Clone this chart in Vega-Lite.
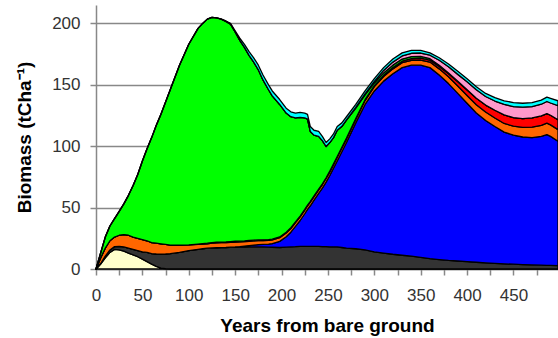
{
  "$schema": "https://vega.github.io/schema/vega-lite/v6.json",
  "width": 462,
  "height": 264,
  "autosize": {"type": "none"},
  "padding": {"left": 96, "top": 5, "right": 0, "bottom": 69},
  "background": "white",
  "config": {"view": {"stroke": null}, "font": "Liberation Sans"},
  "data": {"values": [
    {"year": 0, "s1": 0, "s2": 0, "s3": 0, "s4": 0, "s5": 0, "s6": 0, "s7": 0, "s8": 0},
    {"year": 5, "s1": 4, "s2": 0.5, "s3": 0, "s4": 4.5, "s5": 0, "s6": 4, "s7": 0, "s8": 0},
    {"year": 10, "s1": 9, "s2": 1.5, "s3": 0, "s4": 6.5, "s5": 0, "s6": 9, "s7": 0, "s8": 0},
    {"year": 15, "s1": 13.5, "s2": 2, "s3": 0, "s4": 7.5, "s5": 0, "s6": 12, "s7": 0, "s8": 0},
    {"year": 20, "s1": 16, "s2": 2.2, "s3": 0, "s4": 7.8, "s5": 0, "s6": 15, "s7": 0, "s8": 0},
    {"year": 25, "s1": 15.5, "s2": 3, "s3": 0, "s4": 9, "s5": 0, "s6": 19.5, "s7": 0, "s8": 0},
    {"year": 30, "s1": 14.5, "s2": 3.5, "s3": 0, "s4": 10, "s5": 0, "s6": 25, "s7": 0, "s8": 0},
    {"year": 35, "s1": 13, "s2": 4, "s3": 0, "s4": 10.5, "s5": 0, "s6": 32.5, "s7": 0, "s8": 0},
    {"year": 40, "s1": 11.5, "s2": 4.5, "s3": 0, "s4": 10, "s5": 0, "s6": 42, "s7": 0, "s8": 0},
    {"year": 45, "s1": 10, "s2": 5, "s3": 0, "s4": 10, "s5": 0, "s6": 52, "s7": 0, "s8": 0},
    {"year": 50, "s1": 8, "s2": 6, "s3": 0, "s4": 10, "s5": 0, "s6": 64, "s7": 0, "s8": 0},
    {"year": 55, "s1": 6, "s2": 7.5, "s3": 0, "s4": 9.5, "s5": 0, "s6": 75, "s7": 0, "s8": 0},
    {"year": 60, "s1": 4, "s2": 8.5, "s3": 0, "s4": 9, "s5": 0, "s6": 85.5, "s7": 0, "s8": 0},
    {"year": 65, "s1": 2.2, "s2": 10, "s3": 0, "s4": 8.8, "s5": 0, "s6": 96, "s7": 0, "s8": 0},
    {"year": 70, "s1": 0.8, "s2": 11.2, "s3": 0, "s4": 8.5, "s5": 0, "s6": 105.5, "s7": 0, "s8": 0},
    {"year": 75, "s1": 0.2, "s2": 12, "s3": 0, "s4": 7.8, "s5": 0, "s6": 116, "s7": 0, "s8": 0},
    {"year": 80, "s1": 0, "s2": 12.5, "s3": 0, "s4": 7, "s5": 0, "s6": 126.5, "s7": 0, "s8": 0},
    {"year": 90, "s1": 0, "s2": 13.5, "s3": 0, "s4": 6, "s5": 0, "s6": 146.5, "s7": 0, "s8": 0},
    {"year": 100, "s1": 0, "s2": 15, "s3": 0, "s4": 4.6, "s5": 0, "s6": 163.4, "s7": 0, "s8": 0},
    {"year": 110, "s1": 0, "s2": 16, "s3": 0, "s4": 4, "s5": 0.3, "s6": 175.7, "s7": 0, "s8": 0},
    {"year": 115, "s1": 0, "s2": 16.5, "s3": 0, "s4": 3.8, "s5": 0.4, "s6": 179.3, "s7": 0, "s8": 0},
    {"year": 120, "s1": 0, "s2": 17, "s3": 0, "s4": 3.5, "s5": 0.5, "s6": 182.5, "s7": 0, "s8": 0},
    {"year": 125, "s1": 0, "s2": 17.2, "s3": 0, "s4": 3.8, "s5": 0.5, "s6": 183.5, "s7": 0, "s8": 0},
    {"year": 130, "s1": 0, "s2": 17.3, "s3": 0, "s4": 4, "s5": 0.5, "s6": 182.7, "s7": 0, "s8": 0},
    {"year": 135, "s1": 0, "s2": 17.4, "s3": 0, "s4": 4, "s5": 0.5, "s6": 181.6, "s7": 0, "s8": 0},
    {"year": 140, "s1": 0, "s2": 17.5, "s3": 0, "s4": 4, "s5": 0.5, "s6": 179.7, "s7": 0, "s8": 0.3},
    {"year": 145, "s1": 0, "s2": 17.6, "s3": 0.2, "s4": 4, "s5": 0.5, "s6": 177.1, "s7": 0, "s8": 0.6},
    {"year": 150, "s1": 0, "s2": 17.7, "s3": 0.3, "s4": 4, "s5": 0.6, "s6": 170.4, "s7": 0, "s8": 1},
    {"year": 155, "s1": 0, "s2": 17.8, "s3": 0.5, "s4": 3.8, "s5": 0.6, "s6": 163.5, "s7": 0, "s8": 1.8},
    {"year": 160, "s1": 0, "s2": 17.9, "s3": 0.8, "s4": 3.6, "s5": 0.6, "s6": 157.6, "s7": 0, "s8": 2.5},
    {"year": 165, "s1": 0, "s2": 18, "s3": 1.1, "s4": 3.5, "s5": 0.6, "s6": 150.8, "s7": 0, "s8": 3},
    {"year": 170, "s1": 0, "s2": 18, "s3": 1.5, "s4": 3.4, "s5": 0.6, "s6": 145, "s7": 0, "s8": 3.5},
    {"year": 175, "s1": 0, "s2": 18, "s3": 1.8, "s4": 3.3, "s5": 0.6, "s6": 138.5, "s7": 0, "s8": 3.8},
    {"year": 180, "s1": 0, "s2": 18, "s3": 2, "s4": 3.2, "s5": 0.6, "s6": 130.2, "s7": 0, "s8": 4},
    {"year": 186, "s1": 0, "s2": 17.8, "s3": 2.5, "s4": 3.1, "s5": 0.6, "s6": 122, "s7": 0, "s8": 4},
    {"year": 190, "s1": 0, "s2": 17.7, "s3": 3, "s4": 3, "s5": 0.6, "s6": 116.7, "s7": 0, "s8": 4},
    {"year": 198, "s1": 0, "s2": 17.5, "s3": 5, "s4": 3, "s5": 0.6, "s6": 107.9, "s7": 0, "s8": 4},
    {"year": 205, "s1": 0, "s2": 17.8, "s3": 8.5, "s4": 3, "s5": 0.6, "s6": 97.1, "s7": 0, "s8": 4},
    {"year": 210, "s1": 0, "s2": 18, "s3": 12, "s4": 3, "s5": 0.6, "s6": 90.4, "s7": 0, "s8": 4},
    {"year": 215, "s1": 0, "s2": 18.2, "s3": 16.5, "s4": 3, "s5": 0.6, "s6": 84.7, "s7": 0, "s8": 4},
    {"year": 220, "s1": 0, "s2": 18.5, "s3": 21, "s4": 3, "s5": 0.6, "s6": 80.4, "s7": 0, "s8": 4},
    {"year": 225, "s1": 0, "s2": 18.5, "s3": 26.5, "s4": 3, "s5": 0.6, "s6": 74.4, "s7": 0, "s8": 4},
    {"year": 228, "s1": 0, "s2": 18.5, "s3": 30, "s4": 3, "s5": 0.6, "s6": 69.9, "s7": 0, "s8": 4},
    {"year": 231, "s1": 0, "s2": 18.5, "s3": 33, "s4": 3, "s5": 0.6, "s6": 56.9, "s7": 0, "s8": 4},
    {"year": 235, "s1": 0, "s2": 18.5, "s3": 37.5, "s4": 3, "s5": 0.6, "s6": 49.4, "s7": 0, "s8": 4},
    {"year": 240, "s1": 0, "s2": 18.5, "s3": 43, "s4": 3, "s5": 0.6, "s6": 42.9, "s7": 0, "s8": 4},
    {"year": 244, "s1": 0, "s2": 18.3, "s3": 47.5, "s4": 3, "s5": 0.6, "s6": 35.1, "s7": 0, "s8": 3.5},
    {"year": 248, "s1": 0, "s2": 18.2, "s3": 52.5, "s4": 3, "s5": 0.6, "s6": 25.5, "s7": 0, "s8": 3.2},
    {"year": 252, "s1": 0, "s2": 18.1, "s3": 58, "s4": 3, "s5": 0.6, "s6": 23.3, "s7": 0, "s8": 3},
    {"year": 256, "s1": 0, "s2": 18, "s3": 64, "s4": 3, "s5": 0.6, "s6": 21.4, "s7": 0, "s8": 3},
    {"year": 260, "s1": 0, "s2": 18, "s3": 70, "s4": 3, "s5": 0.6, "s6": 21.4, "s7": 0, "s8": 3},
    {"year": 265, "s1": 0, "s2": 17.5, "s3": 78, "s4": 3, "s5": 0.6, "s6": 16.9, "s7": 0.2, "s8": 2.8},
    {"year": 270, "s1": 0, "s2": 17, "s3": 86, "s4": 3, "s5": 0.6, "s6": 14.6, "s7": 0.3, "s8": 2.5},
    {"year": 280, "s1": 0, "s2": 16.5, "s3": 102.5, "s4": 3, "s5": 0.6, "s6": 8.5, "s7": 0.5, "s8": 2.4},
    {"year": 290, "s1": 0, "s2": 15.5, "s3": 118.5, "s4": 3.2, "s5": 0.7, "s6": 4, "s7": 0.8, "s8": 2.3},
    {"year": 300, "s1": 0, "s2": 14, "s3": 131, "s4": 3.5, "s5": 0.8, "s6": 2.2, "s7": 1.3, "s8": 2.2},
    {"year": 310, "s1": 0, "s2": 13, "s3": 140, "s4": 3.8, "s5": 0.9, "s6": 2, "s7": 2, "s8": 2.3},
    {"year": 320, "s1": 0, "s2": 12, "s3": 147, "s4": 4, "s5": 1, "s6": 2, "s7": 2.5, "s8": 2.5},
    {"year": 330, "s1": 0, "s2": 11.2, "s3": 152.8, "s4": 4, "s5": 1.2, "s6": 1.8, "s7": 2.5, "s8": 2.5},
    {"year": 340, "s1": 0, "s2": 10.5, "s3": 155.5, "s4": 4, "s5": 1.4, "s6": 1.6, "s7": 2.7, "s8": 2.3},
    {"year": 350, "s1": 0, "s2": 9.5, "s3": 156.5, "s4": 4.2, "s5": 1.5, "s6": 1.4, "s7": 2.8, "s8": 2.1},
    {"year": 360, "s1": 0, "s2": 8.5, "s3": 155.5, "s4": 4.5, "s5": 1.6, "s6": 1.2, "s7": 2.8, "s8": 1.9},
    {"year": 370, "s1": 0, "s2": 7.7, "s3": 150.3, "s4": 5, "s5": 2, "s6": 1, "s7": 4, "s8": 2},
    {"year": 380, "s1": 0, "s2": 7, "s3": 144, "s4": 5.5, "s5": 2.5, "s6": 0.7, "s7": 5, "s8": 2.3},
    {"year": 390, "s1": 0, "s2": 6.5, "s3": 136.5, "s4": 6, "s5": 3.5, "s6": 0.5, "s7": 5.5, "s8": 2.5},
    {"year": 400, "s1": 0, "s2": 6, "s3": 129, "s4": 6.3, "s5": 4.5, "s6": 0.3, "s7": 6.4, "s8": 2.5},
    {"year": 410, "s1": 0, "s2": 5.5, "s3": 121.5, "s4": 6.7, "s5": 5.3, "s6": 0, "s7": 7, "s8": 2.5},
    {"year": 420, "s1": 0, "s2": 5, "s3": 116, "s4": 6.8, "s5": 5.7, "s6": 0, "s7": 7, "s8": 2.5},
    {"year": 430, "s1": 0, "s2": 4.6, "s3": 111.4, "s4": 7, "s5": 6.3, "s6": 0, "s7": 7.5, "s8": 2.7},
    {"year": 440, "s1": 0, "s2": 4.2, "s3": 107.3, "s4": 7, "s5": 7, "s6": 0, "s7": 8.5, "s8": 3},
    {"year": 450, "s1": 0, "s2": 3.9, "s3": 105.1, "s4": 7.3, "s5": 7, "s6": 0, "s7": 9, "s8": 3.2},
    {"year": 460, "s1": 0, "s2": 3.6, "s3": 103.9, "s4": 7.8, "s5": 7.2, "s6": 0, "s7": 9.3, "s8": 3.2},
    {"year": 470, "s1": 0, "s2": 3.3, "s3": 103.7, "s4": 8.5, "s5": 7.5, "s6": 0, "s7": 9.3, "s8": 3.2},
    {"year": 480, "s1": 0, "s2": 3.1, "s3": 104.9, "s4": 9, "s5": 7.7, "s6": 0, "s7": 9.5, "s8": 3.3},
    {"year": 486, "s1": 0, "s2": 3, "s3": 106.5, "s4": 9.3, "s5": 7.8, "s6": 0, "s7": 9.8, "s8": 3.6},
    {"year": 490, "s1": 0, "s2": 2.9, "s3": 105.1, "s4": 9.4, "s5": 7.8, "s6": 0, "s7": 10, "s8": 3.8},
    {"year": 498, "s1": 0, "s2": 2.8, "s3": 101.2, "s4": 9.5, "s5": 8, "s6": 0, "s7": 11.5, "s8": 4}
  ]},
  "transform": [{"fold": ["s1", "s2", "s3", "s4", "s5", "s6", "s7", "s8"], "as": ["layer", "v"]}],
  "mark": {"type": "area", "stroke": "black", "strokeWidth": 1.3, "strokeJoin": "round"},
  "encoding": {
    "x": {
      "field": "year", "type": "quantitative",
      "scale": {"domain": [0, 498], "nice": false},
      "axis": {
        "title": "Years from bare ground",
        "values": [0, 25, 50, 75, 100, 125, 150, 175, 200, 225, 250, 275, 300, 325, 350, 375, 400, 425, 450, 475],
        "labelExpr": "datum.value % 50 === 0 ? datum.label : ''",
        "grid": false, "labelFlush": false,
        "domainColor": "#888888", "domainWidth": 1.5,
        "tickColor": "#888888", "tickWidth": 1.5, "tickSize": 6,
        "labelFontSize": 17, "labelColor": "#333333", "labelPadding": 12,
        "titleFontSize": 19, "titleFontWeight": "bold", "titleColor": "black", "titlePadding": 13
      }
    },
    "y": {
      "field": "v", "type": "quantitative", "stack": "zero",
      "scale": {"domain": [0, 215], "nice": false},
      "axis": {
        "title": "Biomass (tCha⁻¹)",
        "values": [0, 50, 100, 150, 200],
        "grid": true, "gridColor": "#888888", "gridWidth": 1.5,
        "domainColor": "#888888", "domainWidth": 1.5,
        "tickColor": "#888888", "tickWidth": 1.5, "tickSize": 6,
        "labelFontSize": 17, "labelColor": "#333333", "labelPadding": 10,
        "titleFontSize": 19, "titleFontWeight": "bold", "titleColor": "black", "titlePadding": 17
      }
    },
    "color": {
      "field": "layer", "type": "nominal", "legend": null,
      "scale": {
        "domain": ["s1", "s2", "s3", "s4", "s5", "s6", "s7", "s8"],
        "range": ["#FFFFCC", "#333333", "#0000FF", "#FF6600", "#FF0000", "#00FF00", "#FF99CC", "#00FFFF"]
      }
    },
    "order": {"field": "layer", "sort": "ascending"}
  }
}
